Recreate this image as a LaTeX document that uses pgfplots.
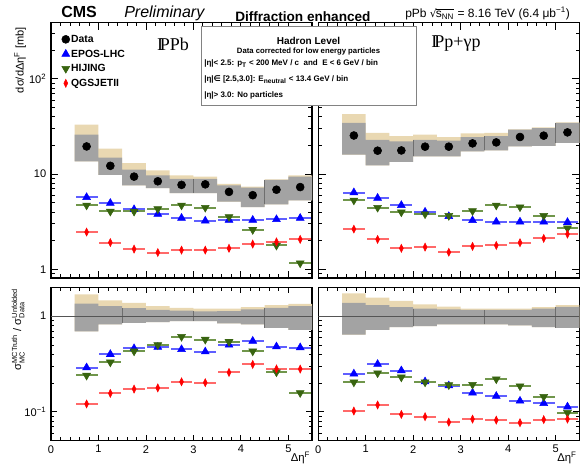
\documentclass[border=0pt]{standalone}
\usepackage{pgfplots}
\pgfplotsset{compat=1.18}
\usepackage{pgfplotstable}
\usepgfplotslibrary{fillbetween}
\usepackage{fontspec}
\setmainfont{Liberation Sans}
\newfontfamily\serifP{Liberation Serif}
\newfontfamily\dejavu{DejaVu Sans}

\definecolor{bandgray}{RGB}{163,163,163}
\definecolor{bandtan}{RGB}{233,216,178}
\definecolor{linegray}{RGB}{85,85,85}
\definecolor{edgegray}{RGB}{110,110,110}
\definecolor{boxgray}{RGB}{130,130,130}
\definecolor{eposc}{RGB}{0,0,255}
\definecolor{eposl}{RGB}{95,95,255}
\definecolor{hijc}{RGB}{56,100,16}
\definecolor{hijl}{RGB}{112,150,75}
\definecolor{qgsc}{RGB}{255,0,0}
\definecolor{qgsl}{RGB}{255,105,105}

% ---------------- points (bin centres) ----------------
\pgfplotstableread{
x data epos hij qgs
0.75 19.5 5.7 4.7 2.46
1.25 12.2 4.95 4.05 1.91
1.75 9.4 4.25 4.05 1.63
2.25 8.4 3.8 4.3 1.5
2.75 7.7 3.45 4.7 1.59
3.25 7.8 3.23 4.45 1.59
3.75 6.5 3.29 3.55 1.66
4.25 6.0 3.29 2.6 1.84
4.75 6.85 3.34 1.78 1.94
5.25 7.3 3.45 1.16 2.06
}\ptTL
\pgfplotstableread{
x data epos hij qgs
0.75 25.4 6.4 5.3 2.64
1.25 17.6 5.6 4.45 2.06
1.75 17.7 4.7 3.98 1.66
2.25 19.4 4.0 3.8 1.71
2.75 19.4 3.6 3.65 1.51
3.25 21.0 3.26 4.1 1.74
3.75 21.5 3.15 4.7 1.78
4.25 24.5 3.15 4.5 1.9
4.75 25.3 3.15 3.65 2.11
5.25 27.4 3.12 2.7 2.34
}\ptTR
\pgfplotstableread{
x epos hij qgs
0.75 0.29 0.24 0.121
1.25 0.40 0.33 0.156
1.75 0.46 0.43 0.173
2.25 0.475 0.50 0.178
2.75 0.45 0.61 0.206
3.25 0.425 0.57 0.202
3.75 0.50 0.54 0.258
4.25 0.55 0.43 0.313
4.75 0.48 0.26 0.281
5.25 0.47 0.158 0.28
}\ptBL
\pgfplotstableread{
x epos hij qgs
0.75 0.25 0.204 0.102
1.25 0.315 0.254 0.118
1.75 0.27 0.23 0.094
2.25 0.207 0.204 0.089
2.75 0.188 0.191 0.078
3.25 0.158 0.193 0.084
3.75 0.146 0.22 0.082
4.25 0.13 0.186 0.077
4.75 0.123 0.144 0.083
5.25 0.113 0.098 0.084
}\ptBR

% ---------------- uncertainty bands (bin left edges) ----------------
\pgfplotstableread{
x lo hi tan
0.5 13.6 25.9 33
1.0 9.8 14.9 18.5
1.5 7.6 11.1 13
2.0 7.1 9.7 10.9
2.5 6.3 8.9 9.7
3.0 6.3 8.9 9.4
3.5 5.15 7.6 7.9
4.0 4.5 7.2 7.4
4.5 4.8 8.7 8.8
5.0 5.3 9.4 9.7
5.5 5.3 9.4 9.7
}\bdTL
\pgfplotstableread{
x lo hi tan
0.5 16 34.4 42.7
1.0 12.3 22.9 27
1.5 13.4 22 25
2.0 15.3 22.9 26
2.5 15.3 22.5 24.5
3.0 17.3 24.5 26.7
3.5 17.7 25 27
4.0 19.5 29.2 29.4
4.5 19.8 30.4 31
5.0 21.2 34.4 35
5.5 21.2 34.4 35
}\bdTR
\pgfplotstableread{
x lo hi tan
0.5 0.695 1.35 1.69
1.0 0.82 1.27 1.46
1.5 0.85 1.21 1.38
2.0 0.865 1.16 1.27
2.5 0.885 1.14 1.22
3.0 0.885 1.12 1.2
3.5 0.84 1.13 1.2
4.0 0.82 1.18 1.24
4.5 0.755 1.22 1.3
5.0 0.72 1.27 1.34
5.5 0.72 1.27 1.34
}\bdBL
\pgfplotstableread{
x lo hi tan
0.5 0.64 1.38 1.73
1.0 0.72 1.3 1.56
1.5 0.77 1.24 1.44
2.0 0.785 1.2 1.33
2.5 0.82 1.18 1.26
3.0 0.82 1.16 1.2
3.5 0.82 1.16 1.2
4.0 0.8 1.16 1.2
4.5 0.77 1.2 1.24
5.0 0.755 1.25 1.3
5.5 0.755 1.25 1.3
}\bdBR

\pgfplotsset{
  cmsdatapt/.style={only marks, mark=*, mark size=3pt, black},
  cmsepos/.style={only marks, mark=triangle*, mark size=3.4pt, color=eposc,
    error bars/x dir=both, error bars/x fixed=0.23, error bars/error mark=none,
    error bars/error bar style={line width=1.5pt, color=eposl}},
  cmshij/.style={only marks, mark=triangle*, mark size=3.4pt, mark options={rotate=180}, color=hijc,
    error bars/x dir=both, error bars/x fixed=0.23, error bars/error mark=none,
    error bars/error bar style={line width=1.5pt, color=hijl}},
  cmsqgs/.style={only marks, mark=diamond*, mark size=3pt, mark options={xscale=0.65}, color=qgsc,
    error bars/x dir=both, error bars/x fixed=0.23, error bars/error mark=none,
    error bars/error bar style={line width=1.5pt, color=qgsl}},
  cmsedge/.style={edgegray, line width=0.45pt, forget plot},
}

\begin{document}
\begin{tikzpicture}
% ================= top left =================
\begin{axis}[scale only axis, width=195.8pt, height=191.5pt, xmin=0, xmax=5.5, ymode=log,
  ymin=0.81, ymax=389, ytick={1,10,100},
  minor ytick={0.9,2,3,4,5,6,7,8,9,20,30,40,50,60,70,80,90,200,300},
  major tick length=5.5pt, minor tick length=2.8pt, xticklabels={},
  axis line style={line width=1.1pt}, tick style={black, line width=0.6pt},
  xtick={0,1,2,3,4,5}, minor x tick num=4, tick align=inside,
  tick label style={font=\fontsize{8.3}{10}\selectfont},
  at={(38.25pt,-208.5pt)}, anchor=south west,
  yticklabels={1,10,10\textsuperscript{2}},
  legend style={at={(0.025,0.971)}, anchor=north west, draw=none, fill=none,
    font=\bfseries\fontsize{7.8}{9}\selectfont, row sep=1.5pt,
    nodes={text height=6pt, text depth=1.5pt, inner sep=1pt}},
  legend cell align=left]
\addplot[const plot, draw=none, forget plot, name path=tlT] table[x=x,y=tan]{\bdTL};
\addplot[const plot, draw=none, forget plot, name path=tlL] table[x=x,y=lo]{\bdTL};
\addplot[const plot, draw=none, forget plot, name path=tlH] table[x=x,y=hi]{\bdTL};
\addplot[fill=bandtan, draw=none, forget plot] fill between[of=tlT and tlL];
\addplot[fill=bandgray, draw=none, forget plot] fill between[of=tlH and tlL];
\addplot[cmsedge] coordinates {(3,6.3) (3,8.9)};
\addplot[cmsedge] coordinates {(4.5,4.8) (4.5,8.7)};
\addplot[cmsdatapt] table[x=x,y=data]{\ptTL};
\addlegendentry{Data}
\addplot[cmsepos] table[x=x,y=epos]{\ptTL};
\addlegendentry{EPOS-LHC}
\addplot[cmshij] table[x=x,y=hij]{\ptTL};
\addlegendentry{HIJING}
\addplot[cmsqgs] table[x=x,y=qgs]{\ptTL};
\addlegendentry{QGSJETII}
\end{axis}
% ================= top right =================
\begin{axis}[scale only axis, width=195.8pt, height=191.5pt, xmin=0, xmax=5.5, ymode=log,
  ymin=0.81, ymax=389, ytick={1,10,100},
  minor ytick={0.9,2,3,4,5,6,7,8,9,20,30,40,50,60,70,80,90,200,300},
  major tick length=5.5pt, minor tick length=2.8pt, xticklabels={},
  axis line style={line width=1.1pt}, tick style={black, line width=0.6pt},
  xtick={0,1,2,3,4,5}, minor x tick num=4, tick align=inside,
  at={(238.7pt,-208.5pt)}, anchor=south west, yticklabels={}]
\addplot[const plot, draw=none, forget plot, name path=trT] table[x=x,y=tan]{\bdTR};
\addplot[const plot, draw=none, forget plot, name path=trL] table[x=x,y=lo]{\bdTR};
\addplot[const plot, draw=none, forget plot, name path=trH] table[x=x,y=hi]{\bdTR};
\addplot[fill=bandtan, draw=none, forget plot] fill between[of=trT and trL];
\addplot[fill=bandgray, draw=none, forget plot] fill between[of=trH and trL];
\addplot[cmsedge] coordinates {(2,15.3) (2,22.9)};
\addplot[cmsedge] coordinates {(3.5,17.7) (3.5,25)};
\addplot[cmsedge] coordinates {(5,21.2) (5,34.4)};
\addplot[cmsdatapt] table[x=x,y=data]{\ptTR};
\addplot[cmsepos] table[x=x,y=epos]{\ptTR};
\addplot[cmshij] table[x=x,y=hij]{\ptTR};
\addplot[cmsqgs] table[x=x,y=qgs]{\ptTR};
\end{axis}
% ================= bottom left =================
\begin{axis}[scale only axis, width=195.8pt, height=115pt, xmin=0, xmax=5.5, ymode=log,
  ymin=0.05, ymax=2, ytick={0.1,1},
  minor ytick={0.06,0.07,0.08,0.09,0.2,0.3,0.4,0.5,0.6,0.7,0.8,0.9,2},
  major tick length=4.5pt, minor tick length=2.5pt, xticklabels={0,1,2,3,4,5},
  axis line style={line width=1.1pt}, tick style={black, line width=0.6pt},
  xtick={0,1,2,3,4,5}, minor x tick num=4, tick align=inside,
  tick label style={font=\fontsize{8.3}{10}\selectfont},
  at={(38.25pt,-330.5pt)}, anchor=south west,
  yticklabels={10\textsuperscript{−1},1}]
\addplot[const plot, draw=none, forget plot, name path=blT] table[x=x,y=tan]{\bdBL};
\addplot[const plot, draw=none, forget plot, name path=blL] table[x=x,y=lo]{\bdBL};
\addplot[const plot, draw=none, forget plot, name path=blH] table[x=x,y=hi]{\bdBL};
\addplot[fill=bandtan, draw=none, forget plot] fill between[of=blT and blL];
\addplot[fill=bandgray, draw=none, forget plot] fill between[of=blH and blL];
\addplot[cmsedge] coordinates {(1.5,0.85) (1.5,1.21)};
\addplot[cmsedge] coordinates {(3,0.885) (3,1.12)};
\addplot[cmsedge] coordinates {(4.5,0.755) (4.5,1.22)};
\addplot[linegray, line width=0.9pt, forget plot] coordinates {(0,1) (5.5,1)};
\addplot[cmsepos] table[x=x,y=epos]{\ptBL};
\addplot[cmshij] table[x=x,y=hij]{\ptBL};
\addplot[cmsqgs] table[x=x,y=qgs]{\ptBL};
\end{axis}
% ================= bottom right =================
\begin{axis}[scale only axis, width=195.8pt, height=115pt, xmin=0, xmax=5.5, ymode=log,
  ymin=0.05, ymax=2, ytick={0.1,1},
  minor ytick={0.06,0.07,0.08,0.09,0.2,0.3,0.4,0.5,0.6,0.7,0.8,0.9,2},
  major tick length=4.5pt, minor tick length=2.5pt, xticklabels={0,1,2,3,4,5},
  axis line style={line width=1.1pt}, tick style={black, line width=0.6pt},
  xtick={0,1,2,3,4,5}, minor x tick num=4, tick align=inside,
  tick label style={font=\fontsize{8.3}{10}\selectfont},
  at={(238.7pt,-330.5pt)}, anchor=south west, yticklabels={}]
\addplot[const plot, draw=none, forget plot, name path=brT] table[x=x,y=tan]{\bdBR};
\addplot[const plot, draw=none, forget plot, name path=brL] table[x=x,y=lo]{\bdBR};
\addplot[const plot, draw=none, forget plot, name path=brH] table[x=x,y=hi]{\bdBR};
\addplot[fill=bandtan, draw=none, forget plot] fill between[of=brT and brL];
\addplot[fill=bandgray, draw=none, forget plot] fill between[of=brH and brL];
\addplot[cmsedge] coordinates {(2,0.785) (2,1.2)};
\addplot[cmsedge] coordinates {(3.5,0.82) (3.5,1.16)};
\addplot[cmsedge] coordinates {(5,0.755) (5,1.25)};
\addplot[linegray, line width=0.9pt, forget plot] coordinates {(0,1) (5.5,1)};
\addplot[cmsepos] table[x=x,y=epos]{\ptBR};
\addplot[cmshij] table[x=x,y=hij]{\ptBR};
\addplot[cmsqgs] table[x=x,y=qgs]{\ptBR};
\end{axis}

\begin{scope}[x=0.75pt, y=-0.75pt]
% header
\node[anchor=base west, inner sep=0, font=\bfseries\fontsize{12}{14}\selectfont] at (61,17.8) {CMS};
\node[anchor=base west, inner sep=0, font=\itshape\fontsize{12}{14}\selectfont] at (124,17.8) {Preliminary};
\node[anchor=base west, inner sep=0, font=\bfseries\fontsize{10.2}{12}\selectfont] at (235,21.3) {Diffraction enhanced};
\node[anchor=base west, inner sep=0, font=\fontsize{9}{11}\selectfont] at (405,18)
  {pPb {\dejavu\fontsize{8}{9}\selectfont √}\kern-0.6pt$\overline{\mbox{s\textsubscript{NN}}}$ = 8.16 TeV (6.4 μb\textsuperscript{−1})};
% panel names
\node[font=\serifP\fontsize{13.5}{15}\selectfont, inner sep=0] at (173,44) {I\kern-0.17em PPb};
\node[font=\serifP\fontsize{13.5}{15}\selectfont, inner sep=0] at (456,44) {I\kern-0.17em Pp+γp};
% info box
\draw[draw=boxgray, fill=white, line width=0.6pt] (201,26) rectangle (416,105);
\node[font=\bfseries\fontsize{7.5}{9}\selectfont, inner sep=0] at (308.5,40.7) {Hadron Level};
\node[font=\bfseries\fontsize{5.8}{7}\selectfont, inner sep=0] at (308.5,52) {Data corrected for low energy particles};
\node[anchor=west, inner sep=0, font=\bfseries\fontsize{6}{7.5}\selectfont] at (204,63.5)
  {|η|< 2.5: p\textsubscript{T} < 200 MeV / c\ \ and\ \ E < 6 GeV / bin};
\node[anchor=west, inner sep=0, font=\bfseries\fontsize{6}{7.5}\selectfont] at (204,80)
  {|η|{\dejavu ∈} [2.5,3.0]: E\textsubscript{neutral} < 13.4 GeV / bin};
\node[anchor=west, inner sep=0, font=\bfseries\fontsize{6}{7.5}\selectfont] at (204,95)
  {|η|> 3.0: No particles};
% axis titles
\node[rotate=90, anchor=base east, inner sep=0, font=\fontsize{8.3}{10}\selectfont] at (23.5,27)
  {dσ/dΔη\textsuperscript{F} [mb]};
\node[rotate=90, anchor=base east, inner sep=0, font=\fontsize{8.3}{10}\selectfont] at (21,288)
  {$\mbox{σ}^{\mbox{\fontsize{5.5}{6}\selectfont MCTruth}}_{\mbox{\fontsize{5.5}{6}\selectfont MC}}$ / $\mbox{σ}^{\mbox{\fontsize{5.5}{6}\selectfont Unfolded}}_{\mbox{\fontsize{5.5}{6}\selectfont Data}}$};
\node[anchor=base east, inner sep=0, font=\fontsize{8.5}{10}\selectfont] at (310.5,461) {Δη\textsuperscript{F}};
\node[anchor=base east, inner sep=0, font=\fontsize{8.5}{10}\selectfont] at (577,461) {Δη\textsuperscript{F}};
\pgfresetboundingbox
\path[use as bounding box] (0,0) rectangle (580,463);
\end{scope}
\end{tikzpicture}
\end{document}
